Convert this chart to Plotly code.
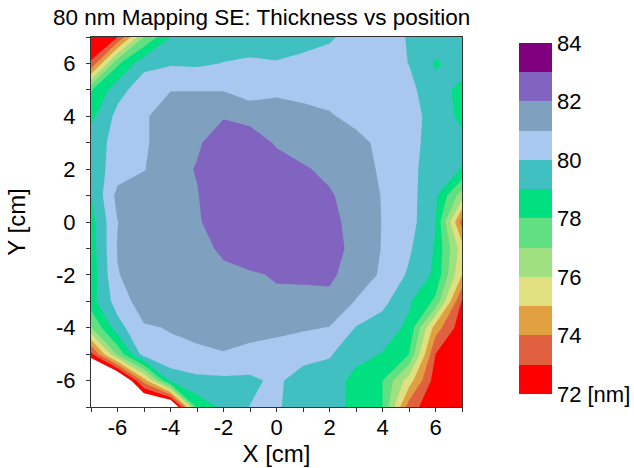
import plotly.graph_objects as go

# Grid positions [cm]
x_pos = [-7, -6, -5, -4, -3, -2, -1, 0, 1, 2, 3, 4, 5, 6, 7]
y_pos = [7, 6, 5, 4, 3, 2, 1, 0, -1, -2, -3, -4, -5, -6, -7]

# Thickness [nm], one row per Y position (top to bottom)
row_y7 = [72.3, 73.0, 77.0, 79.0, 79.4, 79.5, 79.5, 79.6, 79.7, 79.9, 80.3, 80.3, 79.95, 79.5, 79.3]
row_y6 = [73.1, 77.8, 79.7, 79.9, 79.85, 80.03, 80.15, 80.05, 80.2, 80.3, 80.5, 80.4, 79.98, 78.9, 79.3]
row_y5 = [77.9, 79.6, 80.6, 80.95, 80.95, 80.95, 80.5, 80.8, 80.7, 80.6, 80.5, 80.5, 80.3, 79.3, 78.8]
row_y4 = [78.7, 80.3, 80.8, 81.8, 81.9, 81.95, 81.7, 81.5, 81.3, 81.1, 80.7, 80.6, 80.5, 79.5, 78.8]
row_y3 = [79.7, 80.2, 80.85, 81.6, 81.9, 82.4, 82.5, 81.9, 81.6, 81.4, 81.3, 80.75, 80.4, 79.5, 79.2]
row_y2 = [79.4, 80.5, 80.95, 81.7, 82.05, 82.6, 82.7, 82.4, 82.1, 81.8, 81.5, 80.83, 80.3, 79.45, 78.95]
row_y1 = [78.95, 81.3, 81.6, 81.8, 81.95, 82.7, 82.9, 82.8, 82.5, 82.1, 81.6, 80.95, 80.4, 79.15, 76.5]
row_y0 = [78.6, 80.98, 81.6, 81.7, 81.8, 82.9, 82.95, 82.9, 82.7, 82.3, 81.63, 80.97, 80.4, 79.05, 73.56]
row_ym1 = [78.5, 81.05, 81.5, 81.7, 81.85, 82.08, 82.7, 82.9, 82.8, 82.4, 81.7, 80.95, 80.15, 78.9, 75.5]
row_ym2 = [78.4, 80.95, 81.5, 81.6, 81.7, 81.9, 81.86, 82.1, 82.15, 82.2, 81.5, 80.87, 79.85, 78.8, 75.0]
row_ym3 = [78.6, 80.45, 81.5, 81.7, 81.85, 81.8, 81.7, 81.8, 81.75, 81.75, 80.95, 80.3, 79.15, 77.8, 72.9]
row_ym4 = [76.9, 79.6, 80.9, 81.05, 81.5, 81.4, 81.4, 81.3, 81.1, 80.97, 79.95, 79.5, 78.8, 74.5, 72.4]
row_ym5 = [72.7, 77.2, 80.5, 80.8, 80.67, 80.95, 80.7, 80.5, 80.4, 80.1, 79.3, 78.95, 78.0, 73.0, 72.3]
row_ym6 = [68.0, 69.3, 74.5, 79.3, 79.8, 79.8, 79.8, 80.2, 79.5, 79.5, 78.7, 78.0, 75.5, 72.5, 72.2]
row_ym7 = [66.0, 67.5, 69.3, 69.3, 78.3, 79.25, 80.02, 80.1, 79.6, 79.8, 78.5, 78.0, 73.5, 72.2, 72.1]

thickness = [row_y7, row_y6, row_y5, row_y4, row_y3, row_y2, row_y1, row_y0,
             row_ym1, row_ym2, row_ym3, row_ym4, row_ym5, row_ym6, row_ym7]

# Axis tick labels
axis_tickvals = [-6, -4, -2, 0, 2, 4, 6]
axis_ticktext = ["-6", "-4", "-2", "0", "2", "4", "6"]

# Contour levels and band colours (72-73 ... 83-84)
level_start, level_end, level_step = 72, 84, 1
band_colors = ["#FF0000", "#E06040", "#E0A040", "#E0E080", "#A0E080", "#60E080",
               "#00E080", "#40C0C0", "#A8C8F0", "#80A0C0", "#8064C0", "#800080"]
below_color = "#FFFFFF"
above_color = "#800080"

cb_tickvals = [72, 74, 76, 78, 80, 82, 84]
cb_ticktext = ["72 [nm]", "74", "76", "78", "80", "82", "84"]

# Contour fill colourscale: region j evaluated at j/13 (below start ... above end)
region_colors = [below_color] + band_colors + [above_color]
n_reg = len(region_colors) - 1
contour_cs = [[j / n_reg, c] for j, c in enumerate(region_colors)]

# Stepped colourscale for the colour bar
nb = len(band_colors)
bar_cs = []
for i, c in enumerate(band_colors):
    bar_cs.append([i / nb, c])
    bar_cs.append([(i + 1) / nb, c])

FONT = "Arial, Liberation Sans, sans-serif"

fig = go.Figure()
fig.add_trace(go.Contour(
    x=x_pos, y=y_pos, z=thickness,
    autocontour=False,
    contours=dict(start=level_start, end=level_end, size=level_step,
                  coloring="fill", showlines=False),
    line=dict(width=0, smoothing=0),
    colorscale=contour_cs,
    showscale=False,
    hoverinfo="x+y+z",
))
fig.add_trace(go.Scatter(
    x=[None], y=[None], mode="markers", showlegend=False, hoverinfo="skip",
    marker=dict(color=[level_start], cmin=level_start, cmax=level_end,
                colorscale=bar_cs, showscale=True,
                colorbar=dict(
                    x=(519 - 91) / 371, xanchor="left", xpad=0,
                    y=(407 - 218.5) / 370, yanchor="middle", ypad=0,
                    thickness=33, len=351, lenmode="pixels",
                    outlinewidth=0, ticks="",
                    tickvals=cb_tickvals, ticktext=cb_ticktext,
                    tickfont=dict(family=FONT, size=22, color="black"),
                )),
))

axis_common = dict(
    range=[-7, 7], tickvals=axis_tickvals, ticktext=axis_ticktext,
    ticks="outside", ticklen=4, tickwidth=1,
    tickcolor="#333", showline=True, linecolor="#333", linewidth=1, mirror=True,
    showgrid=False, zeroline=False,
    minor=dict(dtick=1, tick0=0, ticks="outside", ticklen=4, tickcolor="#333", showgrid=False),
    tickfont=dict(family=FONT, size=22, color="black"),
)

fig.update_layout(
    width=634, height=468,
    margin=dict(l=91, r=172, t=37, b=61, autoexpand=False),
    paper_bgcolor="white", plot_bgcolor="white",
    title=dict(text="80 nm Mapping SE: Thickness vs position",
               x=53 / 634, xanchor="left", xref="container",
               y=1 - 17 / 468, yanchor="middle", yref="container",
               font=dict(family=FONT, size=22.5, color="black")),
    xaxis=dict(**axis_common, ticklabelstandoff=-3,
               title=dict(text="X [cm]", font=dict(family=FONT, size=24, color="black"), standoff=0)),
    yaxis=dict(**axis_common, ticklabelstandoff=6,
               title=dict(text="Y [cm]", font=dict(family=FONT, size=24, color="black"), standoff=23)),
    showlegend=False,
)

fig.write_html("out.html",
               config={"displayModeBar": False},
               post_script="document.body.style.margin='0';document.body.style.overflow='hidden';")
